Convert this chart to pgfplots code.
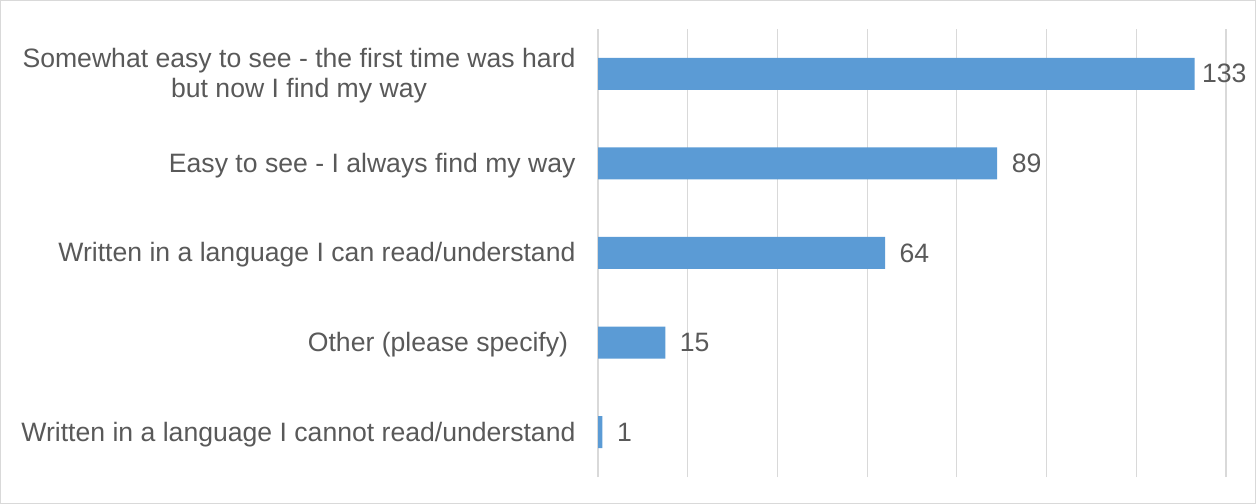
\documentclass[border=0pt]{standalone}
\usepackage{pgfplots}
\pgfplotsset{compat=1.18}
\usepackage{fontspec}
\setmainfont{Liberation Sans}
\definecolor{barblue}{HTML}{5B9BD5}
\definecolor{txtgray}{HTML}{595959}
\definecolor{gridgray}{HTML}{D9D9D9}
\begin{document}
\begin{tikzpicture}
\path[use as bounding box] (0,0) rectangle (1256bp,504bp);
\draw[gridgray, line width=1.2bp] (0.6bp,0.6bp) rectangle (1255.4bp,503.4bp);
\begin{axis}[
  at={(598bp,27bp)}, anchor=south west,
  scale only axis, width=628bp, height=448bp,
  xbar, bar width=32bp,
  xmin=0, xmax=140, ymin=-0.5, ymax=4.5,
  xtick={0,20,...,140}, xticklabels={},
  ytick={0,1,2,3,4},
  yticklabels={Written in a language I cannot read/understand,
               Other (please specify)\ ,
               Written in a language I can read/understand,
               Easy to see - I always find my way,
               {Somewhat easy to see - the first time was hard\\but now I find my way}},
  yticklabel style={font=\fontsize{26.6bp}{30bp}\selectfont, text=txtgray, align=center, xshift=-19bp, yshift=-2bp},
  major tick length=0pt,
  xmajorgrids, grid style={gridgray, line width=1.2bp},
  axis line style={draw=none},
  nodes near coords,
  nodes near coords style={font=\fontsize{26.6bp}{30bp}\selectfont, text=txtgray, anchor=west, xshift=11bp},
  coordinate style/.condition={x>120}{xshift=-7bp},
  /pgf/number format/assume math mode=true,
]
\addplot[fill=barblue, draw=none] coordinates {(1,0) (15,1) (64,2) (89,3) (133,4)};
\end{axis}
\end{tikzpicture}
\end{document}
